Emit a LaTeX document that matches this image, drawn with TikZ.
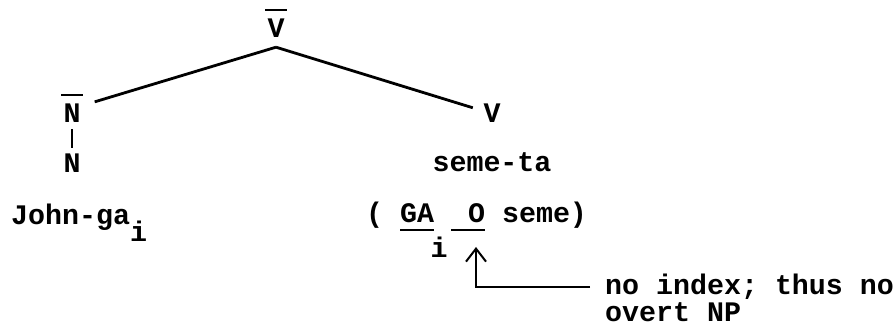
\documentclass[tikz,border=0pt]{standalone}
\usepackage{fontspec}
\usepackage{tikz}
\usetikzlibrary{arrows.meta, positioning}
\newfontfamily\typewriter{Liberation Mono}
\newcommand{\barred}[1]{\vbox{\offinterlineskip\hbox{\kern-2.5pt\vrule height 2pt width 22pt\kern-2.5pt}\kern 8pt\hbox{#1}}}
\newcommand{\under}[1]{\vtop{\hbox{#1}\kern 6pt\hrule height 1.6pt}}
\tikzset{
  tw/.style={font={\typewriter\bfseries\fontsize{28.3}{34}\selectfont}},
  branch/.style={line width=2.8pt},
  pointer/.style={line width=2pt, -{Straight Barb[length=13pt, width=20pt]}}
}

\begin{document}
\begin{tikzpicture}[x=1pt, y=-1pt, tw]
        \useasboundingbox (0,0) rectangle (896,328);
        \node[anchor=base, inner xsep=4pt, inner ysep=9pt] (vbar) at (276,38) {\barred{V}};
        \node[anchor=base, inner xsep=14pt, inner ysep=6pt] (nbar) at (72,123) {\barred{N}};
        \node[anchor=base, inner ysep=6pt] (nlow) at (72,173) {N};
        \node[anchor=base, inner xsep=10.5pt] (vhead) at (492,123) {V};
        \node[anchor=base] (verb) at (492,172) {seme-ta};
        \node[anchor=base west, inner sep=0pt] (subj) at (11,225) {John-ga\raisebox{-17pt}{i}};
        \node[anchor=base west, inner sep=0pt] (lexent) at (366,223) {(~\under{GA}~\under{~O}~seme)};
        \node[anchor=base, inner sep=0pt] (gaidx) at (439,258) {i};
        \node[anchor=base west, inner xsep=15pt, inner ysep=0pt] (note1) at (590,295) {no index; thus no};
        \node[anchor=base west, inner xsep=15pt, inner ysep=0pt] (note2) at (590,321) {overt NP};
        \coordinate (otip) at (476,247);
        \draw[branch] (vbar.south) -- (nbar);
        \draw[branch] (vbar.south) -- (vhead);
        \draw[branch] (nbar) -- (nlow);
        \draw[pointer] (note1.west) -| (otip);
    \end{tikzpicture}
\end{document}
